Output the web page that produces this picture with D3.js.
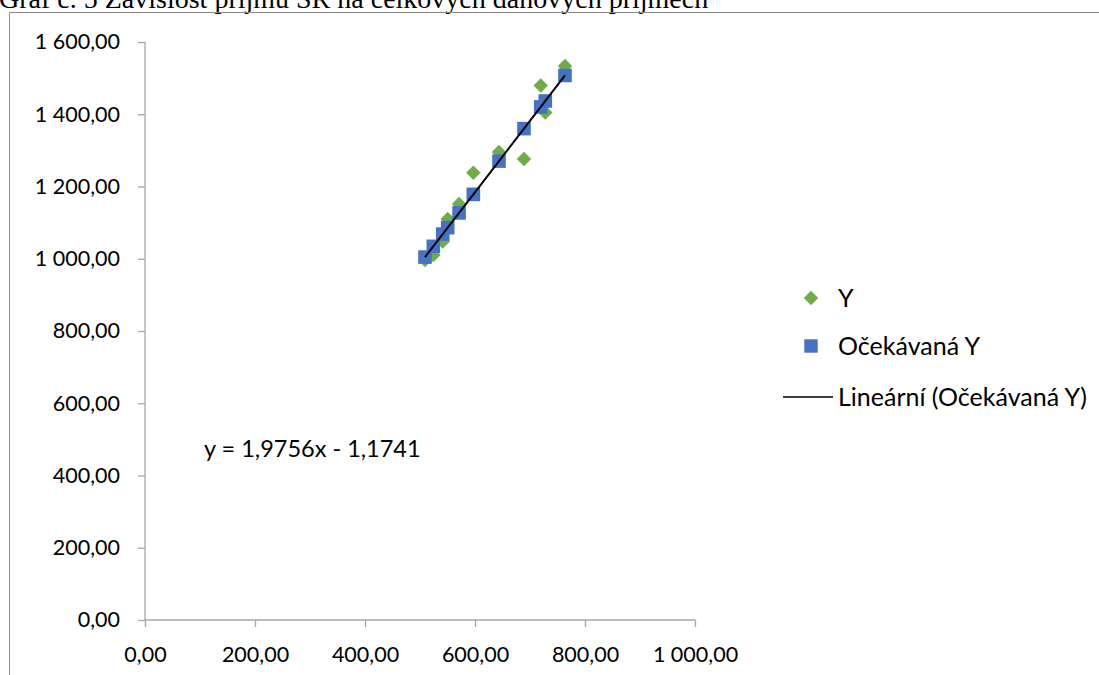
<!DOCTYPE html>
<html>
<head>
<meta charset="utf-8">
<script src="https://cdn.jsdelivr.net/npm/d3@7"></script>
<style>
  html, body { margin: 0; padding: 0; background: #fff; overflow: hidden; }
  svg { display: block; }
</style>
</head>
<body>
<svg id="chart" width="1099" height="675"></svg>
<script>
// Celkové daňové příjmy (X)
const xValues = [509.1, 524.2, 541.3, 550.4, 571.0, 597.0, 643.6, 689.1, 719.5, 727.8, 763.6];
// Příjmy SR (Y)
const yValues = [996.5, 1010.4, 1047.8, 1110.0, 1151.6, 1238.2, 1295.5, 1276.1, 1479.6, 1404.8, 1533.6];
// Očekávaná Y (regresní odhad)
const yExpected = [1004.6, 1034.4, 1068.2, 1086.2, 1126.9, 1178.3, 1270.3, 1360.2, 1420.3, 1436.7, 1507.4];
// Lineární trend: y = 1,9756x - 1,1741
const trendSlope = 1.9756;
const trendIntercept = -1.1741;

const xTicks = [0, 200, 400, 600, 800, 1000];
const yTicks = [0, 200, 400, 600, 800, 1000, 1200, 1400, 1600];

const titleText = "Graf č. 5 Závislost příjmů SR na celkových daňových příjmech";
const seriesNames = ["Y", "Očekávaná Y", "Lineární (Očekávaná Y)"];

const GREEN = "#70AD47", BLUE = "#4472C4", AXIS = "#A6A6A6";
const FONT = "Lato, 'Open Sans', sans-serif";

const svg = d3.select("#chart");

// Czech number format: space as thousands separator, comma as decimal mark
const cz = d3.formatLocale({ decimal: ",", thousands: "\u00a0", grouping: [3], currency: ["", " Kč"] });
const fmt = cz.format(",.2f");
const fmtCoef = v => String(v).replace(".", ",");

// Title (partly cut off by the top edge)
svg.append("text")
  .attr("x", -1).attr("y", 8)
  .attr("font-family", "'Liberation Serif', 'Times New Roman', serif")
  .attr("font-size", 28)
  .attr("fill", "#000")
  .text(titleText);

// Chart frame
svg.append("path")
  .attr("d", "M9.5,675 V12.5 H1099")
  .attr("fill", "none")
  .attr("stroke", "#8c8c8c")
  .attr("stroke-width", 1);

const x = d3.scaleLinear().domain([0, 1000]).range([145, 695]);
const y = d3.scaleLinear().domain([0, 1600]).range([620, 42]);

// Axes
const yAxis = d3.axisLeft(y).tickValues(yTicks).tickSize(7).tickPadding(18).tickFormat(fmt);
const xAxis = d3.axisBottom(x).tickValues(xTicks).tickSize(7).tickPadding(20).tickFormat(fmt);

const gy = svg.append("g").attr("transform", `translate(${x(0)},0)`).call(yAxis);
const gx = svg.append("g").attr("transform", `translate(0,${y(0)})`).call(xAxis);

[gx, gy].forEach(g => {
  g.select(".domain").attr("stroke", AXIS).attr("stroke-width", 1.3);
  g.selectAll(".tick line").attr("stroke", AXIS).attr("stroke-width", 1.3);
  g.selectAll(".tick text")
    .attr("font-family", FONT)
    .attr("font-size", 21.5)
    .attr("fill", "#000");
});
gy.select(".domain").attr("d", `M0,${y(1600)}V${y(0)}`);
gx.select(".domain").attr("d", `M${x(0)},0H${x(1000)}`);

// Actual values: green diamonds
const diamond = d3.symbol().type(d3.symbolSquare).size(105);
svg.append("g").selectAll("path")
  .data(xValues.map((v, i) => [v, yValues[i]]))
  .join("path")
  .attr("d", diamond)
  .attr("transform", d => `translate(${x(d[0])},${y(d[1])}) rotate(45)`)
  .attr("fill", GREEN);

// Expected values: blue squares
const square = d3.symbol().type(d3.symbolSquare).size(185);
svg.append("g").selectAll("path")
  .data(xValues.map((v, i) => [v, yExpected[i]]))
  .join("path")
  .attr("d", square)
  .attr("transform", d => `translate(${x(d[0])},${y(d[1])})`)
  .attr("fill", BLUE);

// Linear trend of the expected values
const xMin = d3.min(xValues), xMax = d3.max(xValues);
const trend = [xMin, xMax].map(v => [v, trendSlope * v + trendIntercept]);
svg.append("path")
  .datum(trend)
  .attr("d", d3.line().x(d => x(d[0])).y(d => y(d[1])))
  .attr("fill", "none")
  .attr("stroke", "#000")
  .attr("stroke-width", 2);

// Trend equation
svg.append("text")
  .attr("x", 204).attr("y", 449)
  .attr("dy", "0.35em")
  .attr("font-family", FONT)
  .attr("font-size", 23.5)
  .attr("fill", "#000")
  .text(`y = ${fmtCoef(trendSlope)}x - ${fmtCoef(Math.abs(trendIntercept))}`);

// Legend
const legend = svg.append("g").attr("font-family", FONT).attr("font-size", 25).attr("fill", "#000");
const legendY = [298, 346, 397];

legend.append("path")
  .attr("d", d3.symbol().type(d3.symbolSquare).size(105))
  .attr("transform", `translate(811,${legendY[0]}) rotate(45)`)
  .attr("fill", GREEN);
legend.append("path")
  .attr("d", d3.symbol().type(d3.symbolSquare).size(180))
  .attr("transform", `translate(811,${legendY[1]})`)
  .attr("fill", BLUE);
legend.append("line")
  .attr("x1", 783).attr("x2", 833)
  .attr("y1", legendY[2]).attr("y2", legendY[2])
  .attr("stroke", "#000").attr("stroke-width", 1.3);

legend.selectAll("text")
  .data(seriesNames)
  .join("text")
  .attr("x", 838)
  .attr("y", (d, i) => legendY[i])
  .attr("dy", "0.35em")
  .text(d => d);
</script>
</body>
</html>
